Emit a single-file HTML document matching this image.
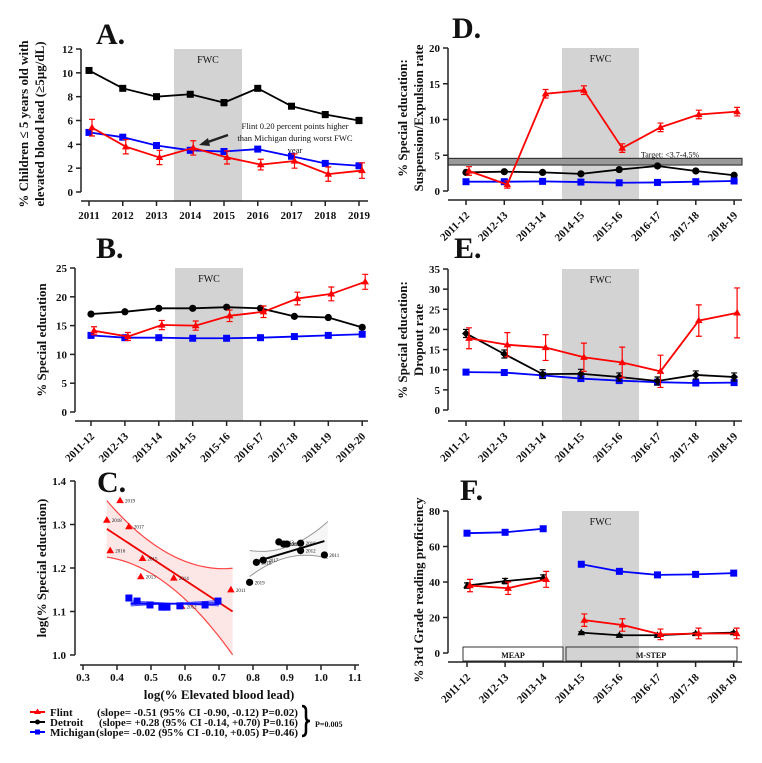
<!DOCTYPE html>
<html><head><meta charset="utf-8">
<style>
body{margin:0;background:#fff}
svg{display:block;font-family:"Liberation Serif",serif}
text{fill:#111}
.tk{font-weight:bold;font-size:11px}
</style></head>
<body>
<svg id="fig" width="762" height="763" viewBox="0 0 762 763" xmlns="http://www.w3.org/2000/svg">
<g font-weight="bold" font-size="13">
<text transform="translate(28,124) rotate(-90)" text-anchor="middle">% Children ≤ 5 years old with</text>
<text transform="translate(44,124) rotate(-90)" text-anchor="middle">elevated blood lead (≥5µg/dL)</text>
<text transform="translate(46,340) rotate(-90)" text-anchor="middle">% Special education</text>
<text transform="translate(46,568) rotate(-90)" text-anchor="middle">log(% Special education)</text>
<text transform="translate(407,118) rotate(-90)" text-anchor="middle">% Special education:</text>
<text transform="translate(423,118) rotate(-90)" text-anchor="middle">Suspension/Expulsion  rate</text>
<text transform="translate(407,340) rotate(-90)" text-anchor="middle">% Special education:</text>
<text transform="translate(423,340) rotate(-90)" text-anchor="middle">Dropout  rate</text>
<text transform="translate(423,590) rotate(-90)" text-anchor="middle">% 3rd Grade reading proficiency</text>
<text x="219" y="699" text-anchor="middle">log(% Elevated blood lead)</text>
</g>
<g id="legend" font-size="11" font-weight="bold">
<line x1="30" y1="712" x2="45" y2="712" stroke="#f00" stroke-width="2"/><path d="M37.5,708.5 L41,714 L34,714Z" fill="#f00"/>
<line x1="30" y1="722" x2="45" y2="722" stroke="#000" stroke-width="2"/><circle cx="37.5" cy="722" r="2.5"/>
<line x1="30" y1="732" x2="45" y2="732" stroke="#00f" stroke-width="2"/><rect x="35" y="729.5" width="5" height="5" fill="#00f"/>
<text x="50" y="716">Flint</text>
<text x="97" y="716" textLength="201" lengthAdjust="spacingAndGlyphs">(slope= -0.51  (95% CI -0.90,  -0.12) P=0.02)</text>
<text x="50" y="726">Detroit</text>
<text x="99" y="726" textLength="199" lengthAdjust="spacingAndGlyphs">(slope= +0.28 (95% CI -0.14, +0.70) P=0.16)</text>
<text x="50" y="736" textLength="45" lengthAdjust="spacingAndGlyphs">Michigan</text>
<text x="96" y="736" textLength="202" lengthAdjust="spacingAndGlyphs">(slope= -0.02  (95% CI -0.10, +0.05) P=0.46)</text>
<path d="M302,706 q4,0 4,5 v6 q0,4 4,4 q-4,0 -4,4 v6 q0,5 -4,5" fill="none" stroke="#000" stroke-width="2.5"/>
<text x="315" y="727" font-size="8">P=0.005</text>
</g>
</svg>
<script>
// ===== data =====
const yearsA = ["2011","2012","2013","2014","2015","2016","2017","2018","2019"];
const aDetroit = [10.2,8.7,8.0,8.2,7.5,8.7,7.2,6.5,6.0];
const aDetroitErr = [0.2,0.2,0.2,0.2,0.25,0.2,0.2,0.25,0.25];
const aMichigan = [5.0,4.6,3.9,3.5,3.4,3.6,3.0,2.4,2.2];
const aFlint = [5.4,3.8,2.9,3.7,2.9,2.3,2.6,1.5,1.8];
const aFlintErr = [0.7,0.6,0.6,0.6,0.55,0.45,0.6,0.6,0.65];
const aTicks = [0,2,4,6,8,10,12];

const yearsB = ["2011-12","2012-13","2013-14","2014-15","2015-16","2016-17","2017-18","2018-19","2019-20"];
const bDetroit = [17.0,17.4,18.0,18.0,18.2,18.0,16.6,16.4,14.7];
const bMichigan = [13.3,12.9,12.9,12.8,12.8,12.9,13.1,13.3,13.5];
const bFlint = [14.1,13.1,15.1,15.0,16.7,17.4,19.7,20.5,22.6];
const bFlintErr = [0.7,0.7,0.8,0.8,1.0,1.0,1.1,1.2,1.3];
const bTicks = [0,5,10,15,20,25];

const yearsD = ["2011-12","2012-13","2013-14","2014-15","2015-16","2016-17","2017-18","2018-19"];
const dFlint = [2.8,0.9,13.6,14.1,6.0,8.9,10.7,11.1];
const dFlintErr = [0.6,0.5,0.6,0.6,0.6,0.6,0.6,0.6];
const dDetroit = [2.6,2.7,2.6,2.4,3.0,3.5,2.8,2.2];
const dMichigan = [1.3,1.3,1.35,1.25,1.15,1.2,1.3,1.4];
const dTicks = [0,5,10,15,20];
const dTarget = [3.7,4.5];

const eFlint = [17.8,16.2,15.5,13.1,11.8,9.6,22.2,24.1];
const eFlintErr = [2.6,3.0,3.2,3.5,3.8,4.0,3.9,6.2];
const eDetroit = [19.0,13.9,8.9,9.0,8.2,7.2,8.7,8.2];
const eDetroitErr = [1.0,1.0,1.1,1.1,1.0,1.0,1.0,1.0];
const eMichigan = [9.4,9.3,8.6,7.8,7.3,6.9,6.7,6.8];
const eTicks = [0,5,10,15,20,25,30,35];

const fMichigan = [67.5,68.0,70.0,null,50.0,46.0,44.0,44.3,45.0];
const fDetroit = [38.0,40.5,42.5,null,11.5,10.0,10.0,11.0,11.5];
const fDetroitErr = [1.5,1.5,1.5,null,0.5,0.5,0.5,0.5,0.5];
const fFlint = [38.0,36.5,41.5,null,18.5,15.8,10.5,11.0,11.0];
const fFlintErr = [3.5,3.5,4.5,null,3.5,3.5,3.0,3.0,3.0];
const fTicks = [0,20,40,60,80];

const cFlintX = [0.735,0.59,0.47,0.567,0.475,0.38,0.435,0.37,0.409];
const cFlintY = [1.150,1.112,1.180,1.177,1.222,1.240,1.295,1.310,1.355];
const cFlintLbl = ["2011","2012","2013","2014","2015","2016","2017","2018","2019"];
const cDetroitX = [1.01,0.94,0.876,0.89,0.9,0.94,0.83,0.81,0.79];
const cDetroitY = [1.230,1.240,1.260,1.255,1.255,1.257,1.218,1.213,1.167];
const cDetroitLbl = ["2011","2012","2013","2014","2015","2016","2017","2018","2019"];
const cMichX = [0.697,0.659,0.585,0.547,0.532,0.497,0.459,0.435];
const cMichY = [1.124,1.115,1.113,1.110,1.110,1.115,1.124,1.131];
const cXTicks = [0.3,0.4,0.5,0.6,0.7,0.8,0.9,1.0,1.1];
const cYTicks = [1.0,1.1,1.2,1.3,1.4];

// ===== drawing =====
const svg = document.getElementById('fig');
const NS = 'http://www.w3.org/2000/svg';
function el(tag, attrs, parent){const e=document.createElementNS(NS,tag);for(const k in attrs)e.setAttribute(k,attrs[k]);(parent||svg).appendChild(e);return e;}

function marker(g, kind, x, y, color){
  let m;
  if(kind==='tri') m=el('path',{d:`M${x},${y-4} L${x+3.8},${y+2.6} L${x-3.8},${y+2.6}Z`,fill:color},g);
  else if(kind==='sq') m=el('rect',{x:x-3.5,y:y-3.5,width:7,height:7,fill:color},g);
  else if(kind==='dia') m=el('path',{d:`M${x},${y-4} L${x+4},${y} L${x},${y+4} L${x-4},${y}Z`,fill:color},g);
  else m=el('circle',{cx:x,cy:y,r:3.6,fill:color},g);
  return m;
}

function panel(p){
  const X = p.xf || (i => p.x0 + i*p.dx);
  const Y = v => p.y0 - v*p.ppu;
  const g = el('g',{});
  
  
  const b = el('rect',{x:p.band[0],y:p.top,width:p.band[1]-p.band[0],height:p.axisY-p.top,fill:'#d3d3d3'},g);
  
  
  const ft = el('text',{x:(p.band[0]+p.band[1])/2,y:p.top+14,'text-anchor':'middle','font-size':'10'},g);
  ft.textContent='FWC';
  
  
  if(p.extra) p.extra(g,X,Y);
  const ya = el('line',{x1:p.yAxisX,y1:p.top,x2:p.yAxisX,y2:p.y0,stroke:'#222','stroke-width':1.5},g);
  
  
  p.ticks.forEach(t=>{
    el('line',{x1:p.yAxisX-5,y1:Y(t),x2:p.yAxisX,y2:Y(t),stroke:'#222','stroke-width':1.5},g);
    const tx = el('text',{x:p.yAxisX-8,y:Y(t)+4,'text-anchor':'end',class:'tk'},g);
    tx.textContent=t;
    
    
  });
  const xa = el('line',{x1:p.yAxisX,y1:p.axisY,x2:p.xEnd,y2:p.axisY,stroke:'#222','stroke-width':1.5},g);
  
  
  p.cats.forEach((c,i)=>{
    const tx0 = p.tickX ? p.tickX(i) : X(i);
    el('line',{x1:tx0,y1:p.axisY,x2:tx0,y2:p.axisY+5,stroke:'#222','stroke-width':1.5},g);
    const tx = el('text',{class:'tk','font-size':'10.5'},g);
    if(p.rot){tx.setAttribute('transform',`translate(${tx0+4},${p.axisY+16}) rotate(-45)`);tx.setAttribute('text-anchor','end');}
    else{tx.setAttribute('x',tx0);tx.setAttribute('y',p.axisY+18);tx.setAttribute('text-anchor','middle');}
    tx.textContent=c;
    
    
  });
  p.series.forEach(s=>{
    const sg = el('g',{},g);
    
    
    const off = s.off||0;
    let d='', pen=false;
    s.vals.forEach((v,i)=>{
      if(v===null){pen=false;return;}
      d += (pen?'L':'M')+(X(i)+off)+','+Y(v)+' '; pen=true;
    });
    el('path',{d:d,fill:'none',stroke:s.color,'stroke-width':1.8},sg);
    s.vals.forEach((v,i)=>{
      if(v===null) return;
      const x=X(i)+off;
      if(s.err && s.err[i]){
        const e=s.err[i];
        el('path',{d:`M${x},${Y(v-e)} V${Y(v+e)} M${x-3},${Y(v-e)} H${x+3} M${x-3},${Y(v+e)} H${x+3}`,stroke:s.color,'stroke-width':1.2,fill:'none'},sg);
      }
      const m = marker(sg,s.mk,x,Y(v),s.color);
      
      
    });
  });
  return g;
}

panel({name:'panel-a',x0:89,dx:33.75,y0:192,ppu:143/12,axisY:201,yAxisX:81,top:49,xEnd:368,band:[174,242],
  ticks:aTicks,cats:yearsA,rot:false,
  extra:(g)=>{
    const t=['Flint 0.20 percent points higher','than Michigan during worst FWC','year'];
    t.forEach((s,i)=>{const tx=el('text',{x:295,y:129+i*12,'text-anchor':'middle','font-size':'8.5'},g);tx.textContent=s;
      
      });
    el('path',{d:'M228,135 L205,143',stroke:'#222','stroke-width':2.5},g);
    el('path',{d:'M199,145 L208,138 L210,146Z',fill:'#222'},g);
  },
  series:[
    {name:'detroit-line',vals:aDetroit,err:aDetroitErr,color:'#000',mk:'sq'},
    {name:'michigan-line',vals:aMichigan,color:'#00f',mk:'sq'},
    {name:'flint-line',vals:aFlint,err:aFlintErr,color:'#f00',mk:'tri',off:3}
  ]});

panel({name:'panel-b',x0:91,dx:33.9,y0:412,ppu:144/25,axisY:421,yAxisX:75,top:268,xEnd:368,band:[175,243],
  ticks:bTicks,cats:yearsB,rot:true,
  series:[
    {name:'detroit-line',vals:bDetroit,color:'#000',mk:'circ'},
    {name:'michigan-line',vals:bMichigan,color:'#00f',mk:'sq'},
    {name:'flint-line',vals:bFlint,err:bFlintErr,color:'#f00',mk:'tri',off:3}
  ]});

panel({name:'panel-d',x0:466,dx:38.3,y0:191,ppu:143/20,axisY:200,yAxisX:448,top:48,xEnd:742,band:[562,639],
  ticks:dTicks,cats:yearsD,rot:true,
  extra:(g,X,Y)=>{
    const r=el('rect',{x:448,y:Y(dTarget[1])-0.5,width:294,height:Y(dTarget[0])-Y(dTarget[1])+1,fill:'#999',stroke:'#222','stroke-width':1},g);
    
    
    const tx=el('text',{x:670,y:Y(dTarget[1])-1.5,'text-anchor':'middle','font-size':'8'},g);tx.textContent='Target:  <3.7-4.5%';
    
    
  },
  series:[
    {name:'detroit-line',vals:dDetroit,color:'#000',mk:'circ'},
    {name:'michigan-line',vals:dMichigan,color:'#00f',mk:'sq'},
    {name:'flint-line',vals:dFlint,err:dFlintErr,color:'#f00',mk:'tri',off:3}
  ]});

panel({name:'panel-e',x0:466,dx:38.3,y0:410,ppu:141/35,axisY:421,yAxisX:448,top:269,xEnd:742,band:[562,639],
  ticks:eTicks,cats:yearsD,rot:true,
  series:[
    {name:'michigan-line',vals:eMichigan,color:'#00f',mk:'sq'},
    {name:'detroit-line',vals:eDetroit,err:eDetroitErr,color:'#000',mk:'dia'},
    {name:'flint-line',vals:eFlint,err:eFlintErr,color:'#f00',mk:'tri',off:3}
  ]});

// Panel F: 9 data slots (slot 3 = gap) mapped onto 8 categories
const fSlotCat = [0,1,2,null,3,4,5,6,7];
panel({name:'panel-f',y0:653,ppu:142/80,axisY:662,yAxisX:448,top:511,xEnd:742,band:[562,639],
  xf: i => 467 + (fSlotCat[i]===null?2.5:fSlotCat[i])*38.1,
  tickX: i => 467 + i*38.1,
  ticks:fTicks,cats:yearsD,rot:true,
  extra:(g)=>{
    const b1=el('rect',{x:463,y:647,width:100,height:14,fill:'#fff',stroke:'#333','stroke-width':1},g);
    
    
    const b2=el('rect',{x:566,y:647,width:171,height:14,fill:'none',stroke:'#333','stroke-width':1},g);
    
    
    const t1=el('text',{x:513,y:658,'text-anchor':'middle','font-size':'8','font-weight':'bold'},g);t1.textContent='MEAP';
    
    
    const t2=el('text',{x:651,y:658,'text-anchor':'middle','font-size':'8','font-weight':'bold'},g);t2.textContent='M-STEP';
    
    
  },
  series:[
    {name:'michigan-line',vals:fMichigan,color:'#00f',mk:'sq'},
    {name:'detroit-line',vals:fDetroit,err:fDetroitErr,color:'#000',mk:'tri'},
    {name:'flint-line',vals:fFlint,err:fFlintErr,color:'#f00',mk:'tri',off:3}
  ]});

// Panel C scatter
(function(){
  const X = v => 83 + (v-0.3)*340;
  const Y = v => 655 - (v-1.0)*435;
  const g = el('g',{});
  
  
  const fx0=0.37, fx1=0.74;
  const fit=(x)=>1.29+(x-fx0)*(1.10-1.29)/(fx1-fx0);
  const fw=x=>0.035+1.33*(x-0.52)*(x-0.52);
  const upPts=[],loPts=[];
  for(let k=0;k<=24;k++){const x=fx0+(fx1-fx0)*k/24;upPts.push(X(x)+','+Y(fit(x)+fw(x)));loPts.push(X(x)+','+Y(fit(x)-fw(x)));}
  const band=el('path',{d:'M'+upPts.join(' L')+' L'+loPts.slice().reverse().join(' L')+'Z',fill:'#fde6e6',stroke:'none'},g);
  
  
  el('path',{d:'M'+upPts.join(' L'),fill:'none',stroke:'#f44','stroke-width':1.2},g);
  el('path',{d:'M'+loPts.join(' L'),fill:'none',stroke:'#f44','stroke-width':1.2},g);
  const fl=el('line',{x1:X(fx0),y1:Y(fit(fx0)),x2:X(fx1),y2:Y(fit(fx1)),stroke:'#e00','stroke-width':1.8},g);
  
  
  const dx0=0.79,dx1=1.02;
  const dfit=x=>1.215+(x-0.81)*(1.262-1.215)/(1.01-0.81);
  const du=[],dl=[];
  for(let k=0;k<=20;k++){const x=dx0+(dx1-dx0)*k/20;const w=0.012+0.0045*Math.pow((x-0.89)/0.05,2);
    du.push(X(x)+','+Y(dfit(x)+w));dl.push(X(x)+','+Y(dfit(x)-w));}
  el('path',{d:'M'+du.join(' L')+' L'+dl.slice().reverse().join(' L')+'Z',fill:'#f6f6f6',stroke:'none'},g);
  el('path',{d:'M'+du.join(' L'),fill:'none',stroke:'#999','stroke-width':1},g);
  el('path',{d:'M'+dl.join(' L'),fill:'none',stroke:'#999','stroke-width':1},g);
  const dfl=el('line',{x1:X(0.81),y1:Y(dfit(0.81)),x2:X(1.01),y2:Y(dfit(1.01)),stroke:'#000','stroke-width':2},g);
  
  
  [[1.124,1.113],[1.121,1.116],[1.116,1.121],[1.113,1.125]].forEach(([a,b])=>el('line',{x1:X(0.44),y1:Y(a),x2:X(0.70),y2:Y(b),stroke:'#44f','stroke-width':1},g));
  const mfl=el('line',{x1:X(0.44),y1:Y(1.118),x2:X(0.7),y2:Y(1.117),stroke:'#00f','stroke-width':1.5},g);
  
  
  cFlintX.forEach((v,i)=>{const m=marker(g,'tri',X(v),Y(cFlintY[i]),'#f00');
    
    
    const t=el('text',{x:X(v)+5,y:Y(cFlintY[i])+2,'font-size':'5'},g);t.textContent=cFlintLbl[i];});
  cDetroitX.forEach((v,i)=>{const m=marker(g,'circ',X(v),Y(cDetroitY[i]),'#000');
    
    
    const t=el('text',{x:X(v)+5,y:Y(cDetroitY[i])+2,'font-size':'5'},g);t.textContent=cDetroitLbl[i];});
  cMichX.forEach((v,i)=>{const m=marker(g,'sq',X(v),Y(cMichY[i]),'#00f');
    
    });
  el('line',{x1:75,y1:481,x2:75,y2:655,stroke:'#222','stroke-width':1.5},g);
  cYTicks.forEach(t=>{el('line',{x1:70,y1:Y(t),x2:75,y2:Y(t),stroke:'#222','stroke-width':1.5},g);
    const tx=el('text',{x:66,y:Y(t)+4,'text-anchor':'end',class:'tk'},g);tx.textContent=t.toFixed(1);
    
    });
  el('line',{x1:80,y1:665,x2:359,y2:665,stroke:'#222','stroke-width':1.5},g);
  cXTicks.forEach(t=>{el('line',{x1:X(t),y1:665,x2:X(t),y2:670,stroke:'#222','stroke-width':1.5},g);
    const tx=el('text',{x:X(t),y:681,'text-anchor':'middle',class:'tk','font-size':'10.5'},g);tx.textContent=t.toFixed(1);
    
    });
})();

// Panel titles on top
[['A.',96,44,'panel-a-title'],['B.',96,258,'panel-b-title'],['C.',97,492,'panel-c-title'],
 ['D.',452,38,'panel-d-title'],['E.',454,258,'panel-e-title'],['F.',460,500,'panel-f-title']].forEach(([t,x,y,n])=>{
  const tx=el('text',{x:x,y:y,'font-size':'30','font-weight':'bold'});
  tx.textContent=t;
  
  
});
</script>
</body></html>
